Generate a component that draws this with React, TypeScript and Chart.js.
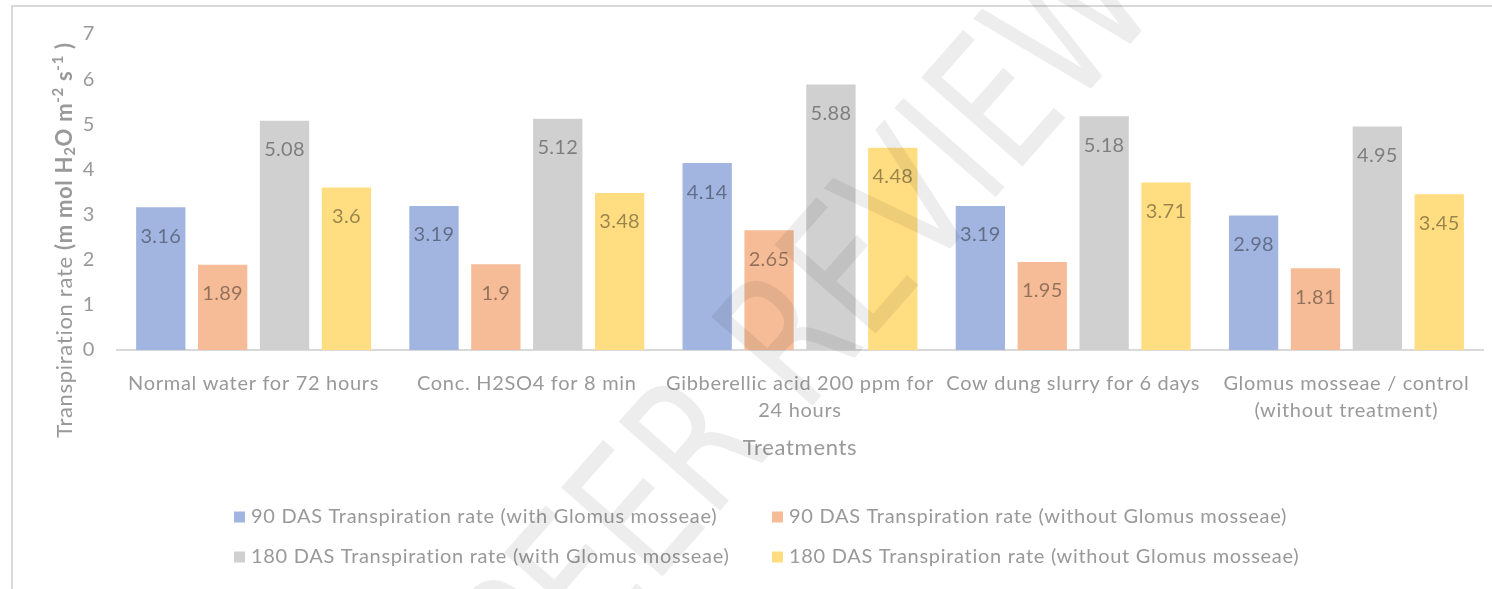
import React, { useEffect, useRef } from "react";
import { Chart, registerables } from "chart.js";

Chart.register(...registerables);

const categories: (string | string[])[] = [
  "Normal water for 72 hours",
  "Conc. H2SO4 for 8 min",
  ["Gibberellic acid 200 ppm for", "24 hours"],
  "Cow dung slurry for 6 days",
  ["Glomus mosseae / control", "(without treatment)"],
];

const seriesNames = [
  "90 DAS Transpiration rate (with Glomus mosseae)",
  "90 DAS Transpiration rate (without Glomus mosseae)",
  "180 DAS Transpiration rate (with Glomus mosseae)",
  "180 DAS Transpiration rate (without Glomus mosseae)",
];

const das90With = [3.16, 3.19, 4.14, 3.19, 2.98];
const das90Without = [1.89, 1.9, 2.65, 1.95, 1.81];
const das180With = [5.08, 5.12, 5.88, 5.18, 4.95];
const das180Without = [3.6, 3.48, 4.48, 3.71, 3.45];

const seriesColors = ["#A2B5E0", "#F5BC97", "#D0D0D0", "#FFDD80"];

const yTicks = [0, 1, 2, 3, 4, 5, 6, 7];
const xTitle = "Treatments";
const yTitleParts: { t: string; bold?: boolean; sub?: boolean; sup?: boolean }[] = [
  { t: "Transpiration rate " },
  { t: "(m mol H", bold: true },
  { t: "2", bold: true, sub: true },
  { t: "O m", bold: true },
  { t: "-2", bold: true, sup: true },
  { t: " s", bold: true },
  { t: "-1", bold: true, sup: true },
  { t: " )", bold: true },
];
const watermark = "PEER REVIEW";

const FONT = "Lato, 'Open Sans', sans-serif";
const TEXT = "#999999";
const SPACING = "0.7px";

export default function App() {
  const ref = useRef<HTMLCanvasElement | null>(null);

  useEffect(() => {
    const canvas = ref.current;
    if (!canvas) return;

    const overlay = {
      id: "overlay",
      beforeDraw(chart: any) {
        (chart.ctx as any).letterSpacing = SPACING;
      },
      afterDatasetsDraw(chart: any) {
        const ctx = chart.ctx as CanvasRenderingContext2D;
        ctx.save();
        (ctx as any).letterSpacing = "0.3px";
        ctx.font = `20px ${FONT}`;
        ctx.fillStyle = "rgba(0,0,0,0.4)";
        ctx.textAlign = "center";
        ctx.textBaseline = "middle";
        chart.data.datasets.forEach((ds: any, di: number) => {
          const meta = chart.getDatasetMeta(di);
          meta.data.forEach((el: any, i: number) => {
            ctx.fillText(String(ds.data[i]), el.x, el.y + 29);
          });
        });
        ctx.restore();
      },
      afterDraw(chart: any) {
        const ctx = chart.ctx as CanvasRenderingContext2D;
        const area = chart.chartArea;
        ctx.save();
        (ctx as any).letterSpacing = SPACING;
        // frame
        ctx.strokeStyle = "#D9D9D9";
        ctx.lineWidth = 2;
        ctx.beginPath();
        ctx.moveTo(12, 600);
        ctx.lineTo(12, 6);
        ctx.lineTo(1500, 6);
        ctx.stroke();

        // x title
        ctx.fillStyle = TEXT;
        ctx.font = `22px ${FONT}`;
        ctx.textAlign = "center";
        ctx.textBaseline = "middle";
        ctx.fillText(xTitle, (area.left + area.right) / 2, 448);

        // y title
        const big = 22;
        const small = 15;
        const widths = yTitleParts.map((p) => {
          const size = p.sub || p.sup ? small : big;
          ctx.font = `${p.bold ? "bold " : ""}${size}px ${FONT}`;
          return ctx.measureText(p.t).width;
        });
        const total = widths.reduce((a, b) => a + b, 0);
        ctx.save();
        ctx.translate(65, 240);
        ctx.rotate(-Math.PI / 2);
        ctx.textAlign = "left";
        ctx.textBaseline = "middle";
        let x = -total / 2;
        yTitleParts.forEach((p, i) => {
          const size = p.sub || p.sup ? small : big;
          ctx.font = `${p.bold ? "bold " : ""}${size}px ${FONT}`;
          const dy = p.sub ? 5 : p.sup ? -7 : 0;
          ctx.fillText(p.t, x, dy);
          x += widths[i];
        });
        ctx.restore();

        // legend
        const cols = [234, 772];
        const rows = [517, 557];
        ctx.font = `20px ${FONT}`;
        ctx.textAlign = "left";
        ctx.textBaseline = "middle";
        seriesNames.forEach((name, i) => {
          const cx = cols[i % 2];
          const cy = rows[Math.floor(i / 2)];
          ctx.fillStyle = seriesColors[i];
          ctx.fillRect(cx, cy - 5.5, 11, 11);
          ctx.fillStyle = TEXT;
          ctx.fillText(name, cx + 17, cy);
        });

        // watermark
        ctx.save();
        (ctx as any).letterSpacing = "0px";
        ctx.translate(815, 330);
        ctx.rotate(-0.85);
        ctx.font = `185px 'DejaVu Sans'`;
        ctx.textAlign = "center";
        ctx.textBaseline = "middle";
        const w = ctx.measureText(watermark).width;
        ctx.scale(940 / w, 1);
        ctx.fillStyle = "rgba(0,0,0,0.07)";
        ctx.fillText(watermark, 0, 0);
        ctx.restore();

        ctx.restore();
      },
    };

    const chart = new Chart(canvas, {
      type: "bar",
      data: {
        labels: categories as any,
        datasets: seriesNames.map((name, i) => ({
          label: name,
          data: [das90With, das90Without, das180With, das180Without][i],
          backgroundColor: seriesColors[i],
          borderWidth: 0,
          categoryPercentage: 0.906,
          barPercentage: 0.797,
        })),
      },
      options: {
        animation: false,
        responsive: true,
        maintainAspectRatio: false,
        layout: { padding: { top: 33, right: 9, left: 0, bottom: 0 } },
        plugins: {
          legend: { display: false },
          tooltip: { enabled: false },
          title: { display: false },
        },
        scales: {
          x: {
            grid: { display: false, drawTicks: false },
            border: { display: true, color: "#D9D9D9", width: 2 },
            ticks: {
              color: TEXT,
              font: { family: FONT, size: 20, lineHeight: 1.35 },
              padding: 20,
              maxRotation: 0,
              autoSkip: false,
            },
            afterFit(scale: any) {
              scale.height = 239;
            },
          },
          y: {
            min: 0,
            max: 7,
            afterBuildTicks(scale: any) {
              scale.ticks = yTicks.map((v) => ({ value: v }));
            },
            grid: { display: false, drawTicks: false },
            border: { display: false },
            ticks: {
              color: TEXT,
              font: { family: FONT, size: 20 },
              padding: 22,
            },
            afterFit(scale: any) {
              scale.width = 117;
            },
          },
        },
      },
      plugins: [overlay],
    });

    return () => chart.destroy();
  }, []);

  return (
    <div style={{ position: "fixed", left: 0, top: 0, width: 1492, height: 589, background: "#fff" }}>
      <canvas ref={ref} />
    </div>
  );
}
